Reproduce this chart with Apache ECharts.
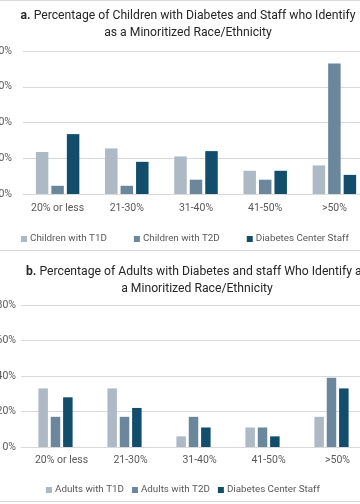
<!DOCTYPE html>
<html><head><meta charset="utf-8">
<script src="https://cdn.jsdelivr.net/npm/echarts@6/dist/echarts.min.js"></script>
<style>html,body{margin:0;padding:0;background:#fff}#c{width:360px;height:504px}</style>
</head><body><div id="c"></div><script>
const categories = ['20% or less', '21-30%', '31-40%', '41-50%', '>50%'];
const childT1D = [23.5, 25.5, 21, 13, 16];
const childT2D = [4.6, 4.6, 8, 8, 73];
const childStaff = [33.5, 18, 24, 13, 10.7];
const adultT1D = [33, 33, 6, 11, 17];
const adultT2D = [17, 17, 17, 11, 39];
const adultStaff = [28, 22, 11, 6, 33];
const yTicks = [0, 20, 40, 60, 80];
const titleA = ['a.', 'Percentage of Children with Diabetes and Staff who Identify', 'as a Minoritized Race/Ethnicity'];
const titleB = ['b.', 'Percentage of Adults with Diabetes and staff Who Identify as', 'a Minoritized Race/Ethnicity'];

const FONT = 'Roboto, "Noto Sans", sans-serif';
const C1 = '#adb9c5', C2 = '#6a879c', C3 = '#124e6b';
const labelColor = '#595959', gridColor = '#d9d9d9';

const chart = echarts.init(document.getElementById('c'), null, {renderer: 'canvas'});

function xAx(idx, padLeft, margin) {
  return {
    type: 'category', gridIndex: idx, data: categories,
    axisTick: {show: false},
    axisLine: {lineStyle: {color: gridColor, width: 1}},
    axisLabel: {color: labelColor, fontSize: 10.5, fontFamily: FONT, margin: margin, padding: [0, 0, 0, padLeft], interval: 0, hideOverlap: false}
  };
}
function yAx(idx, margin) {
  return {
    type: 'value', gridIndex: idx, min: yTicks[0], max: yTicks[yTicks.length - 1], interval: yTicks[1] - yTicks[0],
    axisLine: {show: false}, axisTick: {show: false},
    splitLine: {lineStyle: {color: gridColor, width: 1}},
    axisLabel: {color: labelColor, fontSize: 10.5, fontFamily: FONT, margin: margin, formatter: '{value}%'}
  };
}
function bar(name, data, color, idx, bw, gap) {
  return {
    name: name, type: 'bar', xAxisIndex: idx, yAxisIndex: idx, data: data,
    barWidth: bw, barGap: gap, itemStyle: {color: color}, silent: true, animation: false
  };
}

chart.setOption({
  animation: false,
  grid: [
    {left: 23, top: 51, width: 346, height: 143, containLabel: false, outerBoundsMode: 'none'},
    {left: 21, top: 305, width: 345, height: 142, containLabel: false, outerBoundsMode: 'none'}
  ],
  xAxis: [xAx(0, 0, 9), xAx(1, 12, 8)],
  yAxis: [yAx(0, 11), yAx(1, 5)],
  legend: [
    {data: ['Children with T1D', 'Children with T2D', 'Diabetes Center Staff'], left: 16, top: 229, width: 500,
     icon: 'rect', itemWidth: 6, itemHeight: 6, itemGap: 27, selectedMode: false,
     textStyle: {color: labelColor, fontSize: 9.8, fontFamily: FONT, padding: [0, 0, 0, -2]}},
    {data: ['Adults with T1D', 'Adults with T2D', 'Diabetes Center Staff'], left: 41, top: 480, width: 500,
     icon: 'rect', itemWidth: 6, itemHeight: 6, itemGap: 8, selectedMode: false,
     textStyle: {color: labelColor, fontSize: 9.8, fontFamily: FONT, padding: [0, 0, 0, -2]}}
  ],
  graphic: [
    {type: 'text', x: 188, y: 7.5, silent: true, style: {
      text: '{b|' + titleA[0] + '} ' + titleA[1] + '\n' + titleA[2],
      rich: {b: {fontWeight: 'bold', fontSize: 12.2, fontFamily: FONT, fill: '#262626'}},
      fontSize: 12.2, fontFamily: FONT, fill: '#262626', align: 'center', verticalAlign: 'top', lineHeight: 17}},
    {type: 'text', x: 197, y: 263.5, silent: true, style: {
      text: '{b|' + titleB[0] + '} ' + titleB[1] + '\n' + titleB[2],
      rich: {b: {fontWeight: 'bold', fontSize: 12.2, fontFamily: FONT, fill: '#262626'}},
      fontSize: 12.2, fontFamily: FONT, fill: '#262626', align: 'center', verticalAlign: 'top', lineHeight: 17}},
    {type: 'line', silent: true, shape: {x1: 0, y1: 0.5, x2: 360, y2: 0.5}, style: {stroke: gridColor, lineWidth: 1}},
    {type: 'line', silent: true, shape: {x1: 0, y1: 250.5, x2: 360, y2: 250.5}, style: {stroke: gridColor, lineWidth: 1}},
    {type: 'line', silent: true, shape: {x1: 0, y1: 501.5, x2: 360, y2: 501.5}, style: {stroke: gridColor, lineWidth: 1}}
  ],
  series: [
    bar('Children with T1D', childT1D, C1, 0, 12.5, '24%'),
    bar('Children with T2D', childT2D, C2, 0, 12.5, '24%'),
    bar('Diabetes Center Staff', childStaff, C3, 0, 12.5, '24%'),
    bar('Adults with T1D', adultT1D, C1, 1, 9.5, '30%'),
    bar('Adults with T2D', adultT2D, C2, 1, 9.5, '30%'),
    bar('Diabetes Center Staff', adultStaff, C3, 1, 9.5, '30%')
  ]
});
</script></body></html>
